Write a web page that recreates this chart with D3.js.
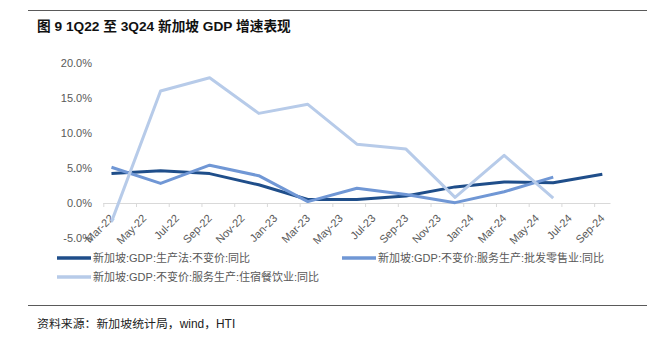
<!DOCTYPE html>
<html><head><meta charset="utf-8">
<script src="https://cdn.jsdelivr.net/npm/d3@7"></script>
<style>
html,body{margin:0;padding:0;background:#fff;}
svg{display:block;}
</style></head>
<body>
<svg id="chart" width="647" height="338"></svg>
<script>
// quarterly observation months (index = months since Mar-22)
const categories = ["Mar-22","Jun-22","Sep-22","Dec-22","Mar-23","Jun-23","Sep-23","Dec-23","Mar-24","Jun-24","Sep-24"];
const monthIndex = [0,3,6,9,12,15,18,21,24,27,30];
const gdpYoY = [4.2, 4.6, 4.2, 2.6, 0.5, 0.5, 1.0, 2.3, 3.0, 2.9, 4.1];
const wholesaleRetailYoY = [5.1, 2.8, 5.4, 3.9, 0.2, 2.1, 1.2, 0.05, 1.6, 3.7, null];
const accommodationFoodYoY = [-2.7, 16.0, 17.9, 12.8, 14.1, 8.4, 7.7, 0.8, 6.8, 0.7, null];
const xTickLabels = ["Mar-22","May-22","Jul-22","Sep-22","Nov-22","Jan-23","Mar-23","May-23","Jul-23","Sep-23","Nov-23","Jan-24","Mar-24","May-24","Jul-24","Sep-24"];
const yTicks = [-5, 0, 5, 10, 15, 20];
const seriesNames = ["新加坡:GDP:生产法:不变价:同比","新加坡:GDP:不变价:服务生产:批发零售业:同比","新加坡:GDP:不变价:服务生产:住宿餐饮业:同比"];
const seriesColors = ["#1f4e8a","#7097d5","#b7cbe9"];

const svg = d3.select("#chart");
const latin = "'Liberation Sans', 'Noto Sans CJK SC', sans-serif";

// rules
svg.append("line").attr("x1",28).attr("x2",647).attr("y1",10.5).attr("y2",10.5).attr("stroke","#5a5a5a").attr("stroke-width",1);
svg.append("line").attr("x1",28).attr("x2",647).attr("y1",305.5).attr("y2",305.5).attr("stroke","#5a5a5a").attr("stroke-width",1);

// title
svg.append("text").attr("x",37).attr("y",31).attr("font-family",latin).attr("font-size",13.7).attr("font-weight","bold").attr("fill","#111")
  .text("图 9 1Q22 至 3Q24 新加坡 GDP 增速表现");

// source
svg.append("text").attr("x",37).attr("y",327.5).attr("font-family",latin).attr("font-size",11.9).attr("fill","#222")
  .text("资料来源：新加坡统计局，wind，HTI");

const x = d3.scaleLinear().domain([0,31]).range([103.3, 610.5]);
const y = d3.scaleLinear().domain([-5,20]).range([238,63]);

// y labels
const yAxis = d3.axisLeft(y).tickValues(yTicks).tickFormat(d => d.toFixed(1) + "%").tickSize(0).tickPadding(0);
const gy = svg.append("g").attr("transform","translate(92,0)").call(yAxis);
gy.select(".domain").remove();
gy.selectAll("text").attr("font-family",latin).attr("font-size",11).attr("fill","#595959");

// x axis at zero
const xAxis = d3.axisBottom(x).tickValues(d3.range(0,31,2)).tickFormat((d,i) => xTickLabels[i]).tickSizeOuter(0).tickSizeInner(4);
const gx = svg.append("g").attr("transform",`translate(0,${y(0)})`).call(xAxis);
gx.select(".domain").attr("stroke","#d9d9d9").attr("d",`M${x(0)},0.5H${x(31)}`);
gx.selectAll(".tick line").attr("stroke","#d9d9d9");
gx.selectAll(".tick text")
  .attr("font-family",latin).attr("font-size",11).attr("fill","#595959")
  .attr("text-anchor","end").attr("dy",null).attr("y",null)
  .attr("transform", d => `translate(${x(d+0.5)-x(d)+2.5},16) rotate(-45)`);

// lines
const allSeries = [gdpYoY, wholesaleRetailYoY, accommodationFoodYoY];
const line = d3.line().defined(d => d.v != null).x(d => x(d.m + 0.5)).y(d => y(d.v));
allSeries.forEach((vals, si) => {
  const pts = vals.map((v,i) => ({m: monthIndex[i], v}));
  svg.append("path").datum(pts).attr("d", line).attr("fill","none")
    .attr("stroke", seriesColors[si]).attr("stroke-width",3).attr("stroke-linejoin","round");
});

// legend
const legendPos = [[57,258],[342,258],[57,277]];
seriesNames.forEach((name, i) => {
  const [lx, ly] = legendPos[i];
  svg.append("line").attr("x1",lx).attr("x2",lx+34).attr("y1",ly).attr("y2",ly)
    .attr("stroke",seriesColors[i]).attr("stroke-width",3.5);
  svg.append("text").attr("x",lx+36).attr("y",ly+4).attr("font-family",latin).attr("font-size",11).attr("fill","#595959").text(name);
});
</script>
</body></html>
